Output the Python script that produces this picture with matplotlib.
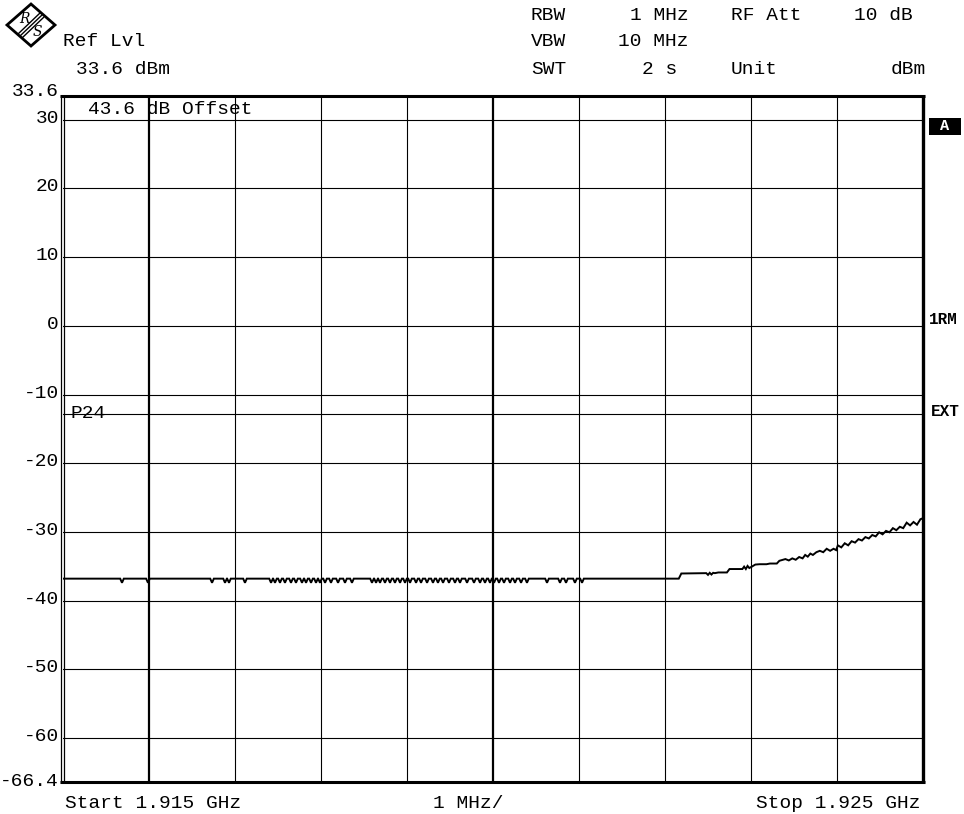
import matplotlib
matplotlib.use("Agg")
import matplotlib.pyplot as plt
from matplotlib.lines import Line2D
from matplotlib.patches import Polygon, Rectangle

# ---------------- data ----------------
start_ghz = 1.915
stop_ghz = 1.925
ref_level = 33.6
bottom_level = -66.4
grid_levels = [30, 20, 10, 0, -10, -20, -30, -40, -50, -60]
ytick_labels = ["33.6", "30", "20", "10", "0", "-10", "-20", "-30", "-40", "-50", "-60", "-66.4"]
ytick_values = [33.6, 30, 20, 10, 0, -10, -20, -30, -40, -50, -60, -66.4]
grid_mhz = [1, 2, 3, 4, 5, 6, 7, 8, 9]
thick_grid_mhz = [1, 5]
p24_level = -12.83

base_level = -36.8
dip_level = -37.4
dip_mhz = [0.686, 0.988, 1.733, 1.884, 1.930, 2.116, 2.419, 2.465, 2.523, 2.581,
           2.651, 2.709, 2.779, 2.826, 2.884, 2.942, 2.988, 3.047, 3.116, 3.198,
           3.279, 3.360, 3.593, 3.640, 3.686, 3.744, 3.802, 3.860, 3.919, 3.977,
           4.035, 4.105, 4.163, 4.233, 4.302, 4.360, 4.419, 4.488, 4.558, 4.616,
           4.698, 4.779, 4.849, 4.907, 4.965, 5.012, 5.070, 5.128, 5.198, 5.256,
           5.326, 5.395, 5.628, 5.779, 5.849, 5.953, 6.035]
rise_mhz = [7.16, 7.19, 7.48, 7.50, 7.52, 7.54, 7.56, 7.58, 7.62, 7.72, 7.75, 7.90,
            7.92, 7.94, 7.96, 7.98, 8.01, 8.05, 8.10, 8.18, 8.22, 8.30, 8.33, 8.36,
            8.40, 8.44, 8.48, 8.52, 8.56, 8.60, 8.63, 8.66, 8.69, 8.72, 8.76, 8.80,
            8.84, 8.88, 8.92, 8.96, 8.99, 9.01, 9.05, 9.09, 9.13, 9.17, 9.21, 9.25,
            9.29, 9.33, 9.37, 9.41, 9.45, 9.49, 9.53, 9.57, 9.61, 9.65, 9.69, 9.73,
            9.77, 9.81, 9.85, 9.89, 9.93, 9.97, 10.0]
rise_dbm = [-36.8, -36.05, -36.0, -36.25, -35.95, -36.2, -35.95, -36.0, -35.9, -35.9,
            -35.4, -35.4, -35.05, -35.4, -34.95, -35.25, -35.05, -34.75, -34.7, -34.7,
            -34.6, -34.6, -34.2, -34.1, -33.95, -34.15, -33.85, -34.05, -33.65, -33.85,
            -33.35, -33.6, -33.15, -33.35, -32.95, -32.75, -32.95, -32.45, -32.75, -32.45,
            -32.65, -31.95, -32.25, -31.65, -31.95, -31.35, -31.55, -31.05, -31.25, -30.75,
            -30.95, -30.45, -30.65, -30.05, -30.35, -29.85, -30.05, -29.45, -29.75, -29.25,
            -29.45, -28.65, -29.05, -28.55, -28.95, -28.15, -28.0]

# build trace (MHz offsets -> GHz)
tr_mhz = [0.0]
tr_dbm = [base_level]
for c in dip_mhz:
    tr_mhz += [c - 0.021, c, c + 0.021]
    tr_dbm += [base_level, dip_level, base_level]
tr_mhz += rise_mhz
tr_dbm += rise_dbm
tr_ghz = [start_ghz + m * 1e-3 for m in tr_mhz]

# ---------------- figure ----------------
W, H = 964, 814
fig = plt.figure(figsize=(W / 100, H / 100), dpi=100)
fig.patch.set_facecolor("white")

L, R, T, B = 63, 923, 95, 782
ax = fig.add_axes([L / W, 1 - B / H, (R - L) / W, (B - T) / H])
ax.set_xlim(start_ghz, stop_ghz)
ax.set_ylim(bottom_level, ref_level)
ax.set_xticks([])
ax.set_yticks([])
for s in ax.spines.values():
    s.set_visible(False)

FONT = "Liberation Mono"
FS = 14


def fx(x):
    return x / W


def fy(y):
    return 1 - y / H


# grid
for m in grid_mhz:
    lw = 1.6 if m in thick_grid_mhz else 0.8
    ax.axvline(start_ghz + m * 1e-3, color="black", lw=lw, zorder=1)
for g in grid_levels:
    ax.axhline(g, color="black", lw=0.8, zorder=1)
ax.axhline(p24_level, color="black", lw=0.8, zorder=1)

# trace
ax.plot(tr_ghz, tr_dbm, color="black", lw=1.4, zorder=3, solid_joinstyle="miter")

# borders
def pxline(x0, y0, x1, y1, lw):
    fig.add_artist(Line2D([fx(x0), fx(x1)], [fy(y0), fy(y1)], color="black",
                          lw=lw, transform=fig.transFigure, solid_capstyle="butt"))

pxline(60, 95.5, 924.5, 95.5, 2.2)
pxline(60, 781.5, 924.5, 781.5, 2.2)
pxline(922.5, 94.5, 922.5, 783, 2.4)
pxline(61, 94.5, 61, 783, 0.9)
pxline(64, 94.5, 64, 783, 0.9)

# y labels
for v, lab in zip(ytick_values, ytick_labels):
    ypix = T + (ref_level - v) / (ref_level - bottom_level) * (B - T)
    if lab == "33.6":
        ypix -= 4
    elif lab == "-66.4":
        ypix -= 1
    else:
        ypix -= 1.5
    fig.text(fx(59), fy(ypix), lab, ha="right", va="center", fontsize=FS,
             family=FONT, color="black")

# header texts
def ptxt(x, y, s, ha="left", **kw):
    fig.text(fx(x), fy(y), s, ha=ha, va="center", fontsize=kw.pop("fs", FS),
             family=FONT, color=kw.pop("color", "black"), **kw)

ptxt(63, 41, "Ref Lvl")
ptxt(76, 69, "33.6 dBm")
ptxt(531, 15, "RBW")
ptxt(689, 15, "1 MHz", ha="right")
ptxt(731, 15, "RF Att")
ptxt(913, 15, "10 dB", ha="right")
ptxt(531, 42, "VBW")
ptxt(689, 42, "10 MHz", ha="right")
ptxt(531, 70, "SWT")
ptxt(677, 70, "2 s", ha="right")
ptxt(731, 70, "Unit")
ptxt(926, 70, "dBm", ha="right")

ptxt(88, 110, "43.6 dB Offset")
ptxt(71, 413, "P24")

ptxt(65, 803, "Start 1.915 GHz")
ptxt(468, 803, "1 MHz/", ha="center")
ptxt(921, 803, "Stop 1.925 GHz", ha="right")

# right side labels
fig.add_artist(Rectangle((fx(929), fy(135)), (961 - 929) / W, (135 - 118) / H,
                         transform=fig.transFigure, facecolor="black",
                         edgecolor="none"))
ptxt(945, 126.5, "A", ha="center", color="white", fs=11, weight="bold")
ptxt(929, 319, "1RM", fs=11.5, weight="bold")
ptxt(931, 411, "EXT", fs=11.5, weight="bold")

# R&S logo
cx, cy, ax_h, ay_h = 31, 25, 24, 21
diamond = [(fx(cx - ax_h), fy(cy)), (fx(cx), fy(cy - ay_h)),
           (fx(cx + ax_h), fy(cy)), (fx(cx), fy(cy + ay_h))]
fig.add_artist(Polygon(diamond, closed=True, transform=fig.transFigure,
                       facecolor="white", edgecolor="black", lw=2.0))
for off in (-2.0, 0, 2.0):
    pxline(20 + off, 36 + off, 42 + off, 15 + off, 1.0)
fig.text(fx(24.5), fy(19), "R", ha="center", va="center", fontsize=10,
         family="DejaVu Serif", style="italic", color="black")
fig.text(fx(37.5), fy(32), "S", ha="center", va="center", fontsize=10,
         family="DejaVu Serif", style="italic", color="black")

fig.savefig("out.png", dpi=100, facecolor="white")
